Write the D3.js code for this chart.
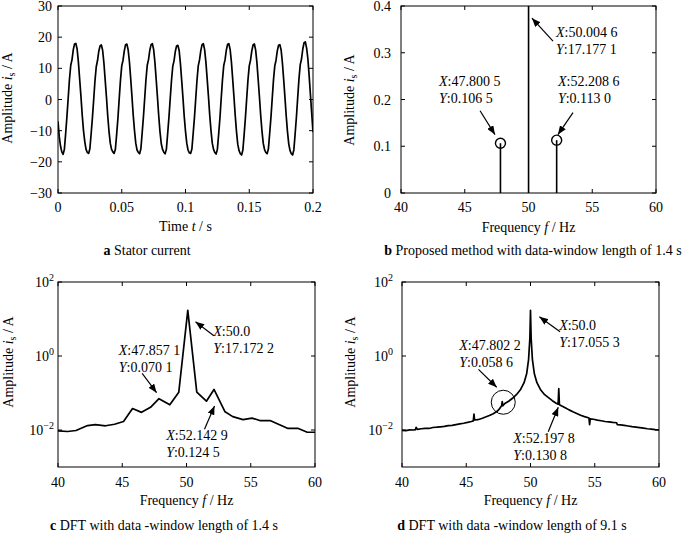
<!DOCTYPE html>
<html><head><meta charset="utf-8">
<script src="https://cdn.jsdelivr.net/npm/d3@7"></script>
<style>
body{margin:0;background:#fff}
text{font-family:"Liberation Serif","Times New Roman",serif;font-size:14px;fill:#000}
</style>
</head><body>
<svg id="chart" width="685" height="538"></svg>
<script>
// ---------------- DATA ----------------
// a: stator current, sampled every 1 ms from 0 to 0.2 s
const currentStepSec = 0.001;
const statorCurrent = [
 -7,-12,-15,-16.8,
 -17.6,-16,-11,-5.5,0.5,6.5,11,12.8,16,17.8,18,16.2,12,6.5,1,-5,-10,-13.5,-16,-17,
 -17.3,-15.8,-11,-5.8,0,6,10.5,12.5,15.5,17.2,17.5,15.8,11.8,6.3,0.8,-5.2,-10.2,-14,-16,-16.8,
 -17.3,-16,-11.2,-6,0.2,6.2,10.8,12.6,15.6,17.6,17.8,16,12.2,6.8,1,-5,-10,-14,-16.2,-17,
 -17.4,-15.8,-10.8,-5.6,0.4,6.4,11,12.8,15.8,17.6,17.9,16.1,12,6.5,0.8,-5.2,-10.4,-14.2,-16,-16.9,
 -17.4,-16,-11,-5.8,0.2,6,10.6,12.4,15.4,17.2,17.4,15.8,11.6,6.2,0.6,-5.4,-10.2,-14,-16.2,-17.1,
 -17.3,-15.9,-11,-5.9,0.1,6.1,10.8,12.7,15.7,17.6,17.9,16,12,6.6,1,-5,-10,-14,-16,-17,
 -17.5,-16,-11.1,-6,0.3,6.3,10.9,12.7,15.8,17.7,17.9,16.1,12.1,6.6,0.9,-5.1,-10.3,-14.4,-16.4,-17.4,
 -17.8,-16.2,-11.2,-5.8,0.3,6.3,10.8,12.6,15.6,17.5,17.8,15.9,11.9,6.4,0.8,-5.2,-10.2,-14.1,-16.1,-17,
 -17.4,-15.9,-11,-5.8,0.2,6.2,10.7,12.6,15.6,17.4,17.6,15.9,11.8,6.4,0.7,-5.3,-10.4,-14.3,-16.4,-17.4,
 -17.8,-16.1,-11,-5.6,0.6,6.6,11.2,13,16.2,18.2,18.5,16.5,13,7.5,1.5,-4.5,-10.5
];
const timeTicks = [0,0.05,0.1,0.15,0.2];
const currentTicks = [-30,-20,-10,0,10,20,30];

// b: proposed method (stems)
const stemFreq = [47.8005, 50.0046, 52.2086];
const stemAmp  = [0.1065, 17.1771, 0.1130];
const stemMarked = [true, false, true];
const ampTicksB = [0,0.1,0.2,0.3,0.4];
const freqTicks = [40,45,50,55,60];

// c: DFT 1.4 s
const dftShortFreq = [40.0,40.75,41.4,42.3,42.9,43.7,44.4,45.1,45.8,46.5,47.2,47.86,48.7,49.4,50.1,50.8,51.55,52.14,53.0,53.6,54.4,55.1,55.7,56.5,57.2,57.9,58.7,59.4,60.0];
const dftShortAmp  = [0.0095,0.0091,0.0097,0.0132,0.014,0.013,0.0143,0.017,0.038,0.030,0.041,0.0701,0.048,0.105,17.17,0.105,0.06,0.1245,0.031,0.023,0.019,0.021,0.018,0.018,0.014,0.011,0.011,0.0087,0.0087];

// d: DFT 9.1 s
const dftLongFreq = [40.0,40.3,40.6,40.9,41.05,41.1,41.2,41.5,41.8,42.1,42.4,42.7,43.0,43.3,43.6,43.9,44.2,44.5,44.8,45.1,45.4,45.55,45.6,45.65,45.9,46.2,46.5,46.8,47.1,47.4,47.6,47.75,47.8,47.85,48.0,48.3,48.6,48.9,49.2,49.5,49.7,49.85,49.95,50.0,50.05,50.15,50.3,50.5,50.8,51.1,51.4,51.7,52.0,52.15,52.2,52.25,52.4,52.7,53.0,53.3,53.6,53.9,54.2,54.5,54.55,54.6,54.65,54.9,55.2,55.5,55.8,56.1,56.4,56.7,56.75,57.0,57.3,57.6,57.9,58.2,58.5,58.8,59.1,59.4,59.7,60.0];
const dftLongAmp  = [0.0098,0.0096,0.0101,0.0100,0.0102,0.0118,0.0104,0.0108,0.0111,0.0110,0.0117,0.0119,0.0122,0.0125,0.0131,0.0133,0.0140,0.0146,0.0152,0.0160,0.0170,0.0176,0.0270,0.0186,0.0190,0.0205,0.0224,0.0246,0.0275,0.0320,0.0380,0.0450,0.0586,0.0450,0.0520,0.0600,0.0720,0.090,0.120,0.190,0.330,0.80,3.0,17.0553,3.0,0.80,0.330,0.190,0.120,0.090,0.075,0.062,0.053,0.050,0.1308,0.048,0.045,0.040,0.035,0.031,0.028,0.025,0.023,0.0215,0.021,0.0140,0.0200,0.0195,0.0185,0.0178,0.0170,0.0165,0.0160,0.0157,0.0140,0.0138,0.0133,0.0128,0.0123,0.0120,0.0116,0.0112,0.0108,0.0106,0.0102,0.0100];
const logTicks = [1e-2, 1e0, 1e2];

// annotations: [f, amp] of text anchor, label lines, arrow tail, arrow head (data coords)
const annB = [
  {at:[42.98,0.228], x:"47.800 5", y:"0.106 5", tail:[46.2,0.176], head:[47.37,0.125]},
  {at:[52.31,0.228], x:"52.208 6", y:"0.113 0", tail:[53.49,0.172], head:[52.31,0.125]},
  {at:[52.16,0.333], x:"50.004 6", y:"17.177 1", tail:[51.92,0.325], head:[50.27,0.374]}
];
const annC = [
  {at:[52.08,3.47], x:"50.0", y:"17.172 2", tail:[52.13,3.54], head:[50.7,8.45]},
  {at:[44.73,1.06], x:"47.857 1", y:"0.070 1", tail:[46.55,0.34], head:[47.67,0.102]},
  {at:[48.42,0.0054], x:"52.142 9", y:"0.124 5", tail:[51.4,0.0105], head:[52.18,0.0447]}
];
const annD = [
  {at:[52.23,5.05], x:"50.0", y:"17.055 3", tail:[52.3,4.54], head:[50.69,11.5]},
  {at:[44.46,1.45], x:"47.802 2", y:"0.058 6", tail:[45.95,0.436], head:[47.37,0.1426]},
  {at:[48.66,0.00447], x:"52.197 8", y:"0.130 8", tail:[51.38,0.009], head:[52.16,0.041]}
];
const circleD = [47.88, 0.0562];

// ---------------- DRAWING ----------------
const svg = d3.select("#chart");
const defs = svg.append("defs");
defs.append("marker").attr("id","arr").attr("viewBox","0 0 10 8")
  .attr("refX",10).attr("refY",4).attr("markerWidth",9).attr("markerHeight",7)
  .attr("markerUnits","userSpaceOnUse").attr("orient","auto")
  .append("path").attr("d","M0,0L10,4L0,8z").attr("fill","#000");

let clipId = 0;
function panel(o){
  const g = svg.append("g");
  const [xl,xr] = o.x.range(), [yb,yt] = o.y.range();
  const id = "clip"+(clipId++);
  defs.append("clipPath").attr("id",id).append("rect")
    .attr("x",xl).attr("y",yt).attr("width",xr-xl).attr("height",yb-yt);
  const tl = 4;
  o.xTicks.forEach(v=>{
    const px = o.x(v);
    g.append("line").attr("x1",px).attr("x2",px).attr("y1",yb).attr("y2",yb-tl).attr("stroke","#000");
    g.append("line").attr("x1",px).attr("x2",px).attr("y1",yt).attr("y2",yt+tl).attr("stroke","#000");
    g.append("text").attr("x",px).attr("y",yb+o.xLabOff).attr("text-anchor","middle").text(o.xFmt(v));
  });
  o.yTicks.forEach(v=>{
    const py = o.y(v);
    g.append("line").attr("x1",xl).attr("x2",xl+tl).attr("y1",py).attr("y2",py).attr("stroke","#000");
    g.append("line").attr("x1",xr).attr("x2",xr-tl).attr("y1",py).attr("y2",py).attr("stroke","#000");
    const t = g.append("text").attr("x",xl-o.yLabOff).attr("y",py+5).attr("text-anchor","end");
    if(o.log){
      t.append("tspan").text("10");
      t.append("tspan").attr("dy",-6).attr("font-size",10).text(String(Math.round(Math.log10(v))).replace("-","\u2212"));
    } else t.text(o.yFmt(v));
  });
  g.append("rect").attr("x",xl).attr("y",yt).attr("width",xr-xl).attr("height",yb-yt)
    .attr("fill","none").attr("stroke","#000").attr("stroke-width",1);
  const xt = g.append("text").attr("x",(xl+xr)/2).attr("y",o.xTitleY).attr("text-anchor","middle");
  xt.append("tspan").text(o.xTitle[0]);
  xt.append("tspan").attr("font-style","italic").text(o.xTitle[1]);
  xt.append("tspan").text(o.xTitle[2]);
  const yt2 = g.append("text").attr("transform",`translate(${o.yTitleX},${o.yTitleY}) rotate(-90)`).attr("text-anchor","middle");
  yt2.append("tspan").text("Amplitude ");
  yt2.append("tspan").attr("font-style","italic").text("i");
  yt2.append("tspan").attr("font-size",10).attr("dy",3).text("s");
  yt2.append("tspan").attr("dy",-3).text(" / A");
  const cp = g.append("text").attr("x",o.capX).attr("y",o.capY).attr("text-anchor","middle");
  cp.append("tspan").attr("font-weight","bold").text(o.cap[0]);
  cp.append("tspan").text(" "+o.cap[1]);
  const data = g.append("g").attr("clip-path",`url(#${id})`);
  return {g, data};
}
function annotate(g, x, y, list){
  list.forEach(a=>{
    const px = x(a.at[0]), py = y(a.at[1]);
    const t1 = g.append("text").attr("x",px).attr("y",py);
    t1.append("tspan").attr("font-style","italic").text("X");
    t1.append("tspan").text(":"+a.x);
    const t2 = g.append("text").attr("x",px).attr("y",py+17);
    t2.append("tspan").attr("font-style","italic").text("Y");
    t2.append("tspan").text(":"+a.y);
    g.append("line").attr("x1",x(a.tail[0])).attr("y1",y(a.tail[1]))
      .attr("x2",x(a.head[0])).attr("y2",y(a.head[1]))
      .attr("stroke","#000").attr("stroke-width",1.2).attr("marker-end","url(#arr)");
  });
}
const fmtNum = v => String(v).replace("-","\u2212");

// ---- panel a ----
{
  const x = d3.scaleLinear().domain([0,0.2]).range([58,313]);
  const y = d3.scaleLinear().domain([-30,30]).range([193,6]);
  const p = panel({x,y,xTicks:timeTicks,yTicks:currentTicks,xFmt:fmtNum,yFmt:fmtNum,
    xLabOff:19,yLabOff:6,xTitle:["Time ","t"," / s"],xTitleY:231,yTitleX:12,yTitleY:98,
    cap:["a","Stator current"],capX:147,capY:255});
  p.data.append("path").datum(statorCurrent)
    .attr("d",d3.line().x((d,i)=>x(i*currentStepSec)).y(d=>y(d)))
    .attr("fill","none").attr("stroke","#000").attr("stroke-width",1.7).attr("stroke-linejoin","round");
}
// ---- panel b ----
{
  const x = d3.scaleLinear().domain([40,60]).range([401,656]);
  const y = d3.scaleLinear().domain([0,0.4]).range([193,6]);
  const p = panel({x,y,xTicks:freqTicks,yTicks:ampTicksB,xFmt:fmtNum,yFmt:fmtNum,
    xLabOff:19,yLabOff:10,xTitle:["Frequency ","f"," / Hz"],xTitleY:232,yTitleX:354,yTitleY:100,
    cap:["b","Proposed method with data-window length of 1.4 s"],capX:533,capY:255});
  stemFreq.forEach((f,i)=>{
    p.data.append("line").attr("x1",x(f)).attr("x2",x(f)).attr("y1",y(0)).attr("y2",y(stemAmp[i]))
      .attr("stroke","#000").attr("stroke-width",1.6);
    if(stemMarked[i]) p.data.append("circle").attr("cx",x(f)).attr("cy",y(stemAmp[i])).attr("r",5)
      .attr("fill","none").attr("stroke","#000").attr("stroke-width",1.4);
  });
  annotate(p.g, x, y, annB);
}
// ---- panel c ----
{
  const x = d3.scaleLinear().domain([40,60]).range([58,315]);
  const y = d3.scaleLog().domain([1e-3,1e2]).range([467,282]);
  const p = panel({x,y,log:true,xTicks:freqTicks,yTicks:logTicks,xFmt:fmtNum,
    xLabOff:20,yLabOff:4,xTitle:["Frequency ","f"," / Hz"],xTitleY:505,yTitleX:13,yTitleY:362,
    cap:["c","DFT with data -window length of 1.4 s"],capX:164,capY:530});
  p.data.append("path").datum(dftShortFreq.map((f,i)=>[f,dftShortAmp[i]]))
    .attr("d",d3.line().x(d=>x(d[0])).y(d=>y(d[1])))
    .attr("fill","none").attr("stroke","#000").attr("stroke-width",1.7).attr("stroke-linejoin","round");
  annotate(p.g, x, y, annC);
}
// ---- panel d ----
{
  const x = d3.scaleLinear().domain([40,60]).range([402,659]);
  const y = d3.scaleLog().domain([1e-3,1e2]).range([467,282]);
  const p = panel({x,y,log:true,xTicks:freqTicks,yTicks:logTicks,xFmt:fmtNum,
    xLabOff:20,yLabOff:9,xTitle:["Frequency ","f"," / Hz"],xTitleY:505,yTitleX:355,yTitleY:362,
    cap:["d","DFT with data -window length of 9.1 s"],capX:512,capY:530});
  p.data.append("path").datum(dftLongFreq.map((f,i)=>[f,dftLongAmp[i]]))
    .attr("d",d3.line().x(d=>x(d[0])).y(d=>y(d[1])))
    .attr("fill","none").attr("stroke","#000").attr("stroke-width",1.7).attr("stroke-linejoin","round");
  p.g.append("circle").attr("cx",x(circleD[0])).attr("cy",y(circleD[1])).attr("r",12)
    .attr("fill","none").attr("stroke","#000").attr("stroke-width",1);
  annotate(p.g, x, y, annD);
}
</script>
</body></html>
